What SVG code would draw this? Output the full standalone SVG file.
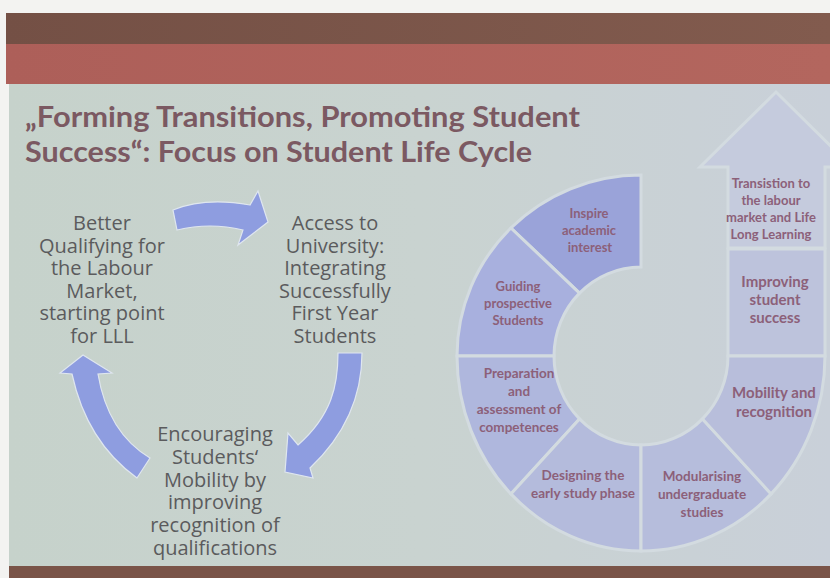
<svg xmlns="http://www.w3.org/2000/svg" width="830" height="578" viewBox="0 0 830 578">
  <defs>
    <linearGradient id="slideBg" x1="0" y1="0" x2="1" y2="0">
      <stop offset="0" stop-color="#c6d2cb"/>
      <stop offset="0.5" stop-color="#c9d3d0"/>
      <stop offset="1" stop-color="#c9d0d9"/>
    </linearGradient>
    <linearGradient id="brownBand" x1="0" y1="0" x2="1" y2="0">
      <stop offset="0" stop-color="#745045"/>
      <stop offset="1" stop-color="#825b4e"/>
    </linearGradient>
    <linearGradient id="redBand" x1="0" y1="0" x2="1" y2="0">
      <stop offset="0" stop-color="#ad5f59"/>
      <stop offset="1" stop-color="#b3665e"/>
    </linearGradient>
  </defs>
  <style>
    .title { font-family: "Lato", "Open Sans", "Liberation Sans", sans-serif; font-weight: bold; font-size: 28px; fill: #7b5962; }
    .cyc { font-family: "Open Sans", "Noto Sans", "Liberation Sans", sans-serif; font-size: 20px; fill: #5b5b5d; text-anchor: middle; }
    .lbl { font-family: "Lato", "Liberation Sans", sans-serif; font-weight: bold; font-size: 13.5px; fill: #8c6079; text-anchor: middle; }
    .seg { stroke: #d3dbe0; stroke-width: 3; stroke-linejoin: miter; }
    .arrow { fill: #8e9de0; stroke: #dfe6ef; stroke-width: 1.2; stroke-linejoin: miter; }
  </style>

  <!-- photo frame / slide bands -->
  <rect x="0" y="0" width="830" height="578" fill="#f3f3f1"/>
  <rect x="6" y="13" width="824" height="32" fill="url(#brownBand)"/>
  <rect x="6" y="44" width="824" height="40" fill="url(#redBand)"/>
  <rect x="9" y="84" width="821" height="482" fill="url(#slideBg)"/>
  <rect x="9" y="566" width="821" height="12" fill="#7a5448"/>

  <!-- title -->
  <g id="title">
    <text class="title" x="25" y="127" textLength="555" lengthAdjust="spacingAndGlyphs">„Forming Transitions, Promoting Student</text>
    <text class="title" x="25" y="162" textLength="507" lengthAdjust="spacingAndGlyphs">Success“: Focus on Student Life Cycle</text>
  </g>

  <!-- left cycle nodes -->
  <g id="node-labour-market">
    <text class="cyc" x="102" y="230">Better</text>
    <text class="cyc" x="102" y="253">Qualifying for</text>
    <text class="cyc" x="102" y="275">the Labour</text>
    <text class="cyc" x="102" y="298">Market,</text>
    <text class="cyc" x="102" y="320">starting point</text>
    <text class="cyc" x="102" y="343">for LLL</text>
  </g>
  <g id="node-access">
    <text class="cyc" x="335" y="230">Access to</text>
    <text class="cyc" x="335" y="253">University:</text>
    <text class="cyc" x="335" y="275">Integrating</text>
    <text class="cyc" x="335" y="298">Successfully</text>
    <text class="cyc" x="335" y="320">First Year</text>
    <text class="cyc" x="335" y="343">Students</text>
  </g>
  <g id="node-mobility">
    <text class="cyc" x="215" y="441">Encouraging</text>
    <text class="cyc" x="215" y="464">Students‘</text>
    <text class="cyc" x="215" y="487">Mobility by</text>
    <text class="cyc" x="215" y="509">improving</text>
    <text class="cyc" x="215" y="532">recognition of</text>
    <text class="cyc" x="215" y="555">qualifications</text>
  </g>

  <!-- cycle connectors -->
  <g id="connectors">
    <path class="arrow" d="M173,210 Q205,197 250,205 L258,191 L268,222 L238,245 L243,230 Q210,222 177,230 Z"/>
    <path class="arrow" d="M338,353 L362,353 C362,395 345,435 310,468 L313,478 L285,472 L288,433 L298,445 C332,415 338,385 338,353 Z"/>
    <path class="arrow" d="M83,355 L112,373 L98,374 C104,410 120,440 150,458 L137,478 C105,455 82,420 72,374 L60,373 Z"/>
  </g>

  <!-- student life cycle ring -->
  <g id="seg-transition">
    <path class="seg" fill="#c5cbdd" d="M728,248 L728,167 L700,167 L776,92 L852,167 L825,167 L825,248 Z"/>
    <text class="lbl" style="font-size:13px" x="771" y="188">Transistion to</text>
    <text class="lbl" style="font-size:13px" x="771" y="205">the labour</text>
    <text class="lbl" style="font-size:13px" x="771" y="222">market and Life</text>
    <text class="lbl" style="font-size:13px" x="771" y="239">Long Learning</text>
  </g>
  <g id="seg-improving">
    <rect class="seg" fill="#bdc3dc" x="728" y="249" width="97" height="107"/>
    <text class="lbl" style="font-size:15px" x="775" y="287">Improving</text>
    <text class="lbl" style="font-size:15px" x="775" y="305">student</text>
    <text class="lbl" style="font-size:15px" x="775" y="323">success</text>
  </g>
  <g id="seg-inspire">
    <path class="seg" fill="#9aa3d9" d="M641,175 A184,181 0 0 0 510.9,228 L579.5,293.1 A87,89 0 0 1 641,267 Z"/>
    <text class="lbl" style="font-size:13px" x="589" y="218">Inspire</text>
    <text class="lbl" style="font-size:13px" x="589" y="235">academic</text>
    <text class="lbl" style="font-size:13px" x="590" y="252">interest</text>
  </g>
  <g id="seg-guiding">
    <path class="seg" fill="#a8b0de" d="M510.9,228 A184,181 0 0 0 457,356 L554,356 A87,89 0 0 1 579.5,293.1 Z"/>
    <text class="lbl" style="font-size:13px" x="518" y="291">Guiding</text>
    <text class="lbl" style="font-size:13px" x="518" y="308">prospective</text>
    <text class="lbl" style="font-size:13px" x="518" y="325">Students</text>
  </g>
  <g id="seg-preparation">
    <path class="seg" fill="#afb7dd" d="M457,356 A184,195 0 0 0 510.9,493.9 L579.5,418.9 A87,89 0 0 1 554,356 Z"/>
    <text class="lbl" x="519" y="378">Preparation</text>
    <text class="lbl" x="519" y="396">and</text>
    <text class="lbl" x="519" y="414">assessment of</text>
    <text class="lbl" x="519" y="432">competences</text>
  </g>
  <g id="seg-designing">
    <path class="seg" fill="#b4bbdc" d="M510.9,493.9 A184,195 0 0 0 641,551 L641,445 A87,89 0 0 1 579.5,418.9 Z"/>
    <text class="lbl" x="583" y="480">Designing the</text>
    <text class="lbl" x="583" y="498">early study phase</text>
  </g>
  <g id="seg-modularising">
    <path class="seg" fill="#b6bddc" d="M641,551 A184,195 0 0 0 771.1,493.9 L702.5,418.9 A87,89 0 0 1 641,445 Z"/>
    <text class="lbl" x="702" y="481">Modularising</text>
    <text class="lbl" x="702" y="499">undergraduate</text>
    <text class="lbl" x="702" y="517">studies</text>
  </g>
  <g id="seg-mobility">
    <path class="seg" fill="#b8bedb" d="M771.1,493.9 A184,195 0 0 0 825,356 L728,356 A87,89 0 0 1 702.5,418.9 Z"/>
    <text class="lbl" style="font-size:15px" x="774" y="398">Mobility and</text>
    <text class="lbl" style="font-size:15px" x="774" y="417">recognition</text>
  </g>
</svg>
